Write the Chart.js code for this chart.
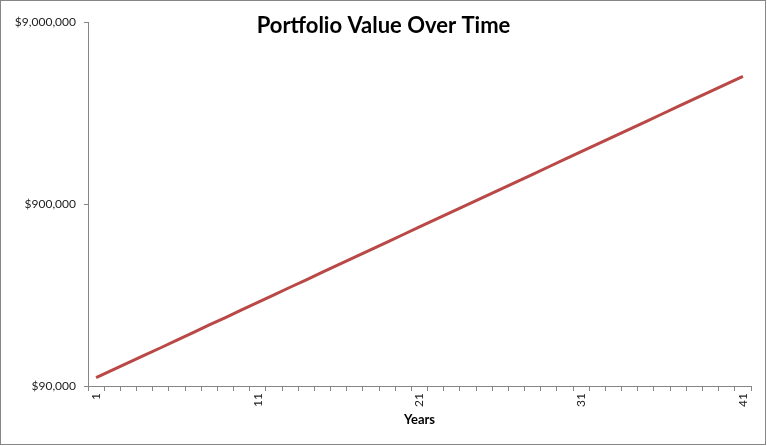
<!DOCTYPE html>
<html>
<head>
<meta charset="utf-8">
<script src="https://cdn.jsdelivr.net/npm/chart.js@4"></script>
<style>
  html, body { margin: 0; padding: 0; background: #fff; }
  #wrap { position: relative; width: 767px; height: 446px; }
  #frame { position: absolute; left: 0; top: 0; width: 764px; height: 443px; border: 1px solid #868686; pointer-events: none; }
</style>
</head>
<body>
<div id="wrap">
  <canvas id="myChart" width="767" height="446"></canvas>
  <div id="frame"></div>
</div>
<script>
// データ
const years = [1, 2, 3, 4, 5, 6, 7, 8, 9, 10, 11, 12, 13, 14, 15, 16, 17, 18, 19, 20,
  21, 22, 23, 24, 25, 26, 27, 28, 29, 30, 31, 32, 33, 34, 35, 36, 37, 38, 39, 40, 41];
const portfolioValue = [100000, 110000, 121000, 133000, 146000, 161000, 177000, 195000, 214000, 236000,
  259000, 285000, 314000, 345000, 380000, 418000, 459000, 505000, 556000, 612000,
  673000, 740000, 814000, 895000, 985000, 1083000, 1192000, 1311000, 1442000, 1586000,
  1745000, 1919000, 2111000, 2323000, 2555000, 2810000, 3091000, 3400000, 3740000, 4114000,
  4526000];
const yTicks = [90000, 900000, 9000000];
const xLabelEvery = 10;

const chartTitle = 'Portfolio Value Over Time';
const axisColor = '#868686';

// タイトルはプロットエリアの上に重ねて描く
const titlePlugin = {
  id: 'overTitle',
  afterDraw(chart) {
    const ctx = chart.ctx;
    ctx.save();
    ctx.font = 'bold 22px Lato';
    ctx.fillStyle = '#000';
    ctx.textAlign = 'center';
    ctx.textBaseline = 'middle';
    ctx.fillText(chartTitle, chart.width / 2, 26);
    ctx.restore();
  }
};

const data = {
  labels: years,
  datasets: [{
    label: 'Portfolio Value',
    data: portfolioValue,
    borderColor: 'rgb(186, 72, 70)',
    backgroundColor: 'rgb(186, 72, 70)',
    borderWidth: 3,
    pointRadius: 0,
    tension: 0
  }]
};

const config = {
  type: 'line',
  data: data,
  plugins: [titlePlugin],
  options: {
    responsive: false,
    animation: false,
    layout: { padding: { top: 22, right: 16, bottom: 15, left: 0 } },
    plugins: {
      legend: { display: false },
      tooltip: { enabled: false }
    },
    scales: {
      x: {
        offset: true,
        grid: { offset: true, drawOnChartArea: false, drawTicks: true, tickLength: 5, color: axisColor },
        border: { display: true, color: axisColor },
        ticks: {
          autoSkip: false,
          minRotation: 90,
          maxRotation: 90,
          padding: 2,
          color: '#222',
          font: { family: 'Lato', size: 12 },
          callback: function (value, index) {
            return index % xLabelEvery === 0 ? this.getLabelForValue(value) : '';
          }
        },
        title: {
          display: true,
          text: 'Years',
          color: '#000',
          font: { family: 'Lato', size: 13, weight: 'bold' },
          padding: { top: 2, bottom: 3 }
        },
        afterFit(scale) { scale.height = 45; }
      },
      y: {
        type: 'logarithmic',
        min: 90000,
        max: 9000000,
        grid: { drawOnChartArea: false, drawTicks: true, tickLength: 4, color: axisColor },
        border: { display: true, color: axisColor },
        afterBuildTicks(scale) {
          scale.ticks = yTicks.map(v => ({ value: v }));
        },
        ticks: {
          padding: 8,
          color: '#222',
          font: { family: 'Lato', size: 12 },
          callback: (value) => '$' + Number(value).toLocaleString('en-US')
        },
        afterFit(scale) { scale.width = 88; }
      }
    }
  }
};

const myChart = new Chart(document.getElementById('myChart'), config);
</script>
</body>
</html>
